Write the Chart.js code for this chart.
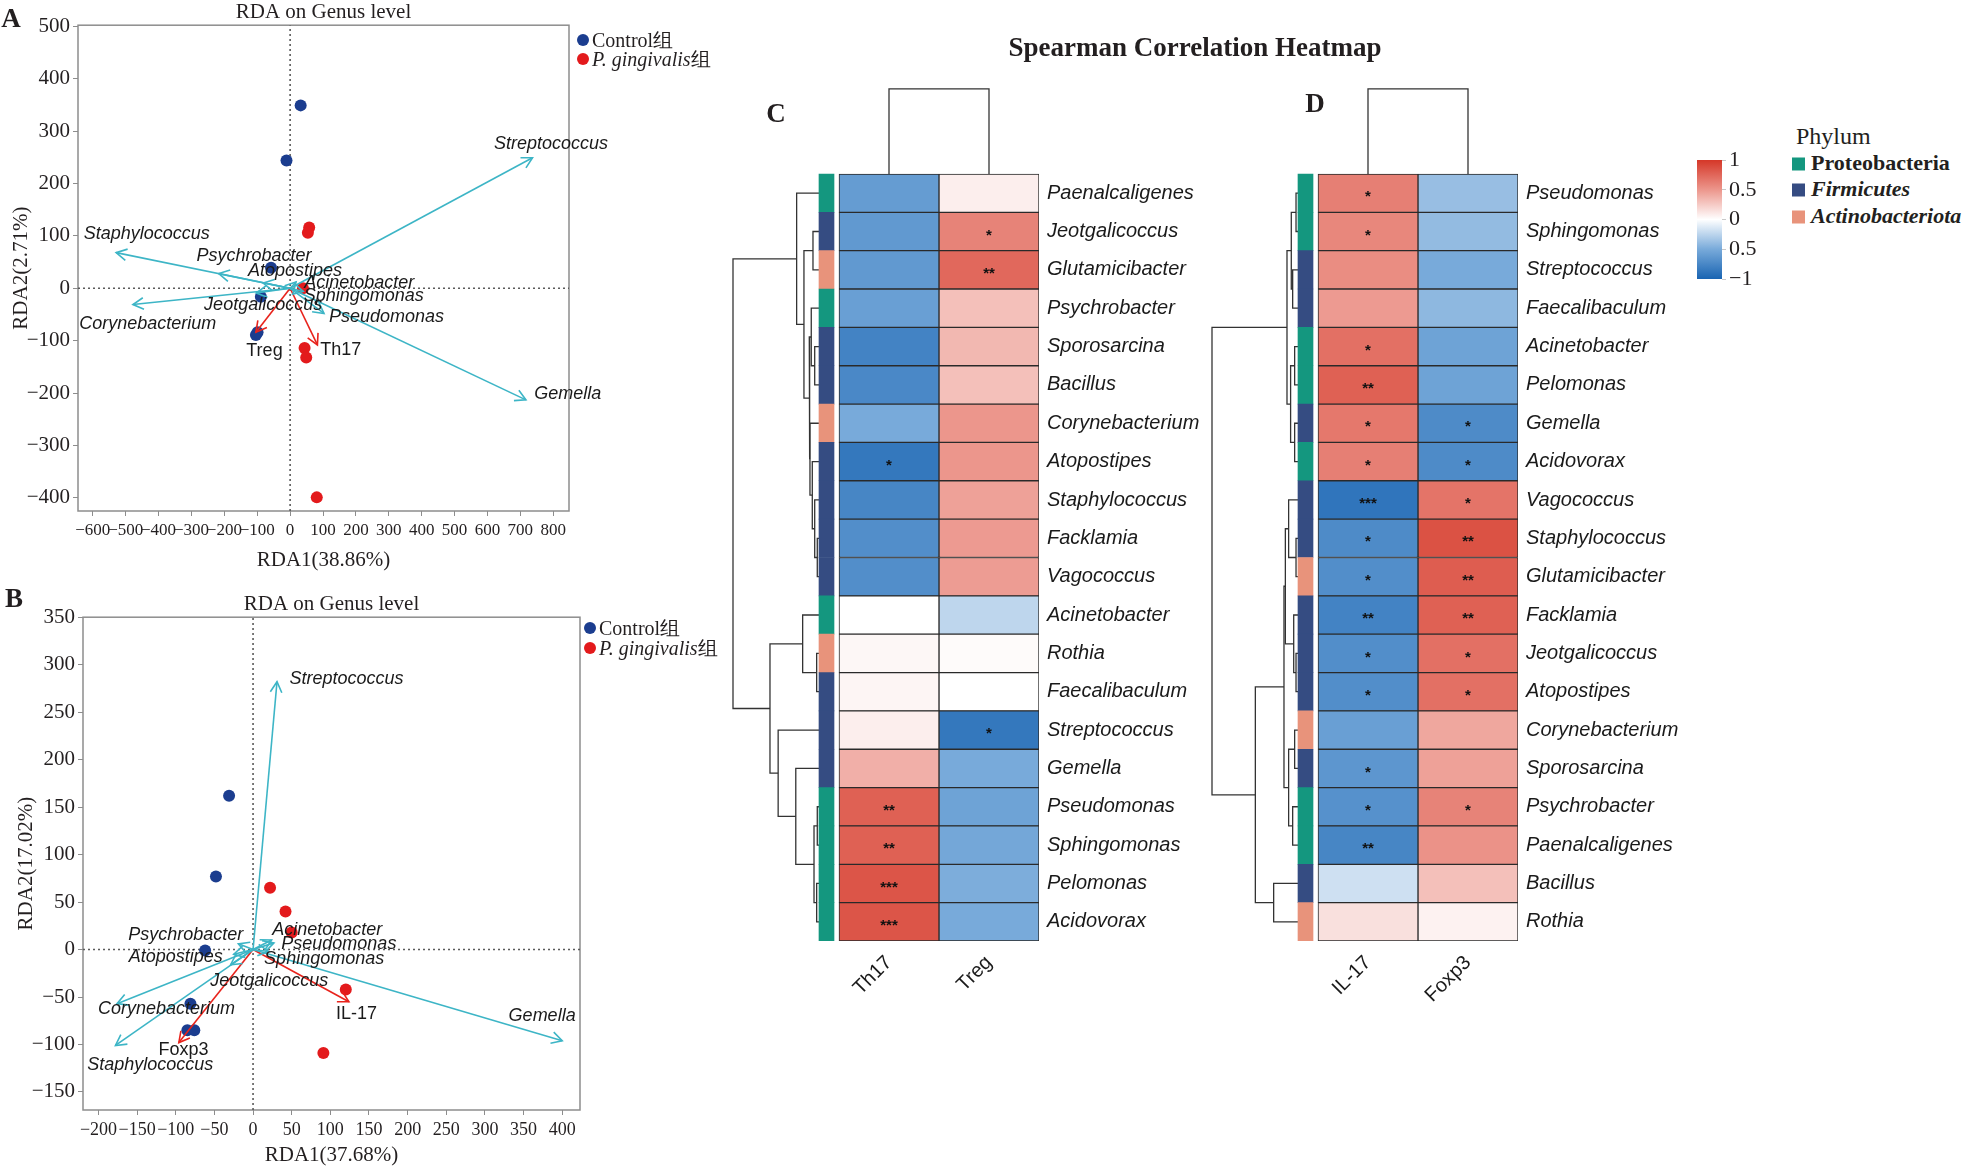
<!DOCTYPE html>
<html>
<head>
<meta charset="utf-8">
<script src="https://cdn.jsdelivr.net/npm/chart.js@4.4.1/dist/chart.umd.min.js"></script>
<style>
html, body { margin: 0; padding: 0; background: #fff; }
#fig { position: relative; width: 1977px; height: 1172px; overflow: hidden; background: #fff; color: #231f20; font-family: "Liberation Serif", serif; }
#fig canvas { position: absolute; }
.c { position: absolute; white-space: nowrap; transform: translate(-50%, -50%); }
.l { position: absolute; white-space: nowrap; transform: translateY(-50%); }
.dot { position: absolute; width: 12px; height: 12px; border-radius: 50%; transform: translate(-50%, -50%); }
.sq { position: absolute; width: 13px; height: 13px; transform: translateY(-50%); }
</style>
</head>
<body>
<div id="fig">
  <canvas id="rdaA" width="720" height="580" style="left:0;top:0"></canvas>
  <canvas id="rdaB" width="720" height="592" style="left:0;top:580px"></canvas>
  <canvas id="heatC" width="560" height="1172" style="left:700px;top:0"></canvas>
  <canvas id="heatD" width="540" height="1172" style="left:1180px;top:0"></canvas>
  <canvas id="cbar" width="100" height="153" style="left:1690px;top:143px"></canvas>

  <div class="c" style="left:11px;top:18px;font:bold 27px 'Liberation Serif'">A</div>
  <div class="c" style="left:14px;top:598px;font:bold 27px 'Liberation Serif'">B</div>
  <div class="c" style="left:776px;top:113px;font:bold 27px 'Liberation Serif'">C</div>
  <div class="c" style="left:1315px;top:103px;font:bold 27px 'Liberation Serif'">D</div>
  <div class="c" style="left:1195px;top:47px;font:bold 27px 'Liberation Serif'">Spearman Correlation Heatmap</div>

  <span class="dot" style="left:583px;top:40px;background:#1B3D8F"></span>
  <div class="l" style="left:592px;top:40px;font:20px 'Liberation Serif'">Control组</div>
  <span class="dot" style="left:583px;top:59px;background:#E31A1C"></span>
  <div class="l" style="left:592px;top:59px;font:20px 'Liberation Serif'"><i>P. gingivalis</i>组</div>

  <span class="dot" style="left:590px;top:628px;background:#1B3D8F"></span>
  <div class="l" style="left:599px;top:628px;font:20px 'Liberation Serif'">Control组</div>
  <span class="dot" style="left:590px;top:648px;background:#E31A1C"></span>
  <div class="l" style="left:599px;top:648px;font:20px 'Liberation Serif'"><i>P. gingivalis</i>组</div>

  <div class="l" style="left:1796px;top:136px;font:24px 'Liberation Serif'">Phylum</div>
  <span class="sq" style="left:1792px;top:164px;background:#14977F"></span>
  <div class="l" style="left:1811px;top:163px;font:bold 22px 'Liberation Serif'">Proteobacteria</div>
  <span class="sq" style="left:1792px;top:190px;background:#354C82"></span>
  <div class="l" style="left:1811px;top:189px;font:italic bold 22px 'Liberation Serif'">Firmicutes</div>
  <span class="sq" style="left:1792px;top:217px;background:#E8937B"></span>
  <div class="l" style="left:1811px;top:216px;font:italic bold 22px 'Liberation Serif'">Actinobacteriota</div>
</div>

<script>
// ---------- RDA panel A (Th17 / Treg) ----------
const groupNames = ['Control组', 'P. gingivalis组'];

const ctrlXA = [32, -11, -58, -89, -104, -99];
const ctrlYA = [349, 244, 39, -16, -89, -84];
const pgXA = [58, 54, 39, 44, 49, 81];
const pgYA = [116, 106, 0, -114, -132, -399];

const genusA = ['Streptococcus', 'Staphylococcus', 'Psychrobacter', 'Atopostipes', 'Acinetobacter',
  'Sphingomonas', 'Jeotgalicoccus', 'Corynebacterium', 'Pseudomonas', 'Gemella'];
const genusXA = [737, -529, -217, -82, 18, 40, -103, -478, 103, 717];
const genusYA = [249, 68, 28, 10, 12, -6, -9, -31, -48, -213];
const cellsA = ['Treg', 'Th17'];
const cellXA = [-104, 83];
const cellYA = [-84, -108];

// where the names sit (data coordinates)
const genusLabelXA = [793, -436, -110, 15, 210, 224, -82, -433, 293, 844];
const genusLabelYA = [275, 104, 61, 33, 10, -14, -32, -68, -54, -201];
const cellLabelXA = [-78, 154];
const cellLabelYA = [-120, -118];

const xTicksA = [-600, -500, -400, -300, -200, -100, 0, 100, 200, 300, 400, 500, 600, 700, 800];
const yTicksA = [-400, -300, -200, -100, 0, 100, 200, 300, 400, 500];

// ---------- RDA panel B (IL-17 / Foxp3) ----------
const ctrlXB = [-31, -48, -62, -81, -85, -76];
const ctrlYB = [162, 77, -1, -57, -85, -85];
const pgXB = [22, 42, 50, 120, 91];
const pgYB = [65, 40, 18, -42, -109];

const genusB = ['Streptococcus', 'Psychrobacter', 'Atopostipes', 'Acinetobacter', 'Pseudomonas',
  'Sphingomonas', 'Jeotgalicoccus', 'Corynebacterium', 'Staphylococcus', 'Gemella'];
const genusXB = [31, -19, -25, 24, 27, 20, -29, -176, -178, 400];
const genusYB = [282, 6, -5, 10, 7, -2, -16, -57, -101, -96];
const cellsB = ['IL-17', 'Foxp3'];
const cellXB = [124, -96];
const cellYB = [-55, -98];

const genusLabelXB = [121, -87, -100, 96, 111, 92, 21, -112, -133, 374];
const genusLabelYB = [285, 15, -8, 21, 6, -10, -33, -63, -122, -70];
const cellLabelXB = [134, -90];
const cellLabelYB = [-68, -106];

const xTicksB = [-200, -150, -100, -50, 0, 50, 100, 150, 200, 250, 300, 350, 400];
const yTicksB = [-150, -100, -50, 0, 50, 100, 150, 200, 250, 300, 350];

// ---------- Heatmap C ----------
const rowsC = ['Paenalcaligenes', 'Jeotgalicoccus', 'Glutamicibacter', 'Psychrobacter', 'Sporosarcina',
  'Bacillus', 'Corynebacterium', 'Atopostipes', 'Staphylococcus', 'Facklamia', 'Vagococcus',
  'Acinetobacter', 'Rothia', 'Faecalibaculum', 'Streptococcus', 'Gemella', 'Pseudomonas',
  'Sphingomonas', 'Pelomonas', 'Acidovorax'];
const colsC = ['Th17', 'Treg'];
const phylumC = ['P', 'F', 'A', 'P', 'F', 'F', 'A', 'F', 'F', 'F', 'F', 'P', 'A', 'F', 'F', 'F', 'P', 'P', 'P', 'P'];
const th17C = [-0.6, -0.62, -0.62, -0.58, -0.78, -0.74, -0.5, -0.86, -0.76, -0.7, -0.7,
  0, 0.04, 0.05, 0.08, 0.38, 0.78, 0.78, 0.84, 0.84];
const tregC = [0.08, 0.6, 0.74, 0.3, 0.34, 0.3, 0.5, 0.5, 0.45, 0.48, 0.47,
  -0.24, 0.02, 0, -0.86, -0.5, -0.55, -0.52, -0.48, -0.5];
const sigTh17C = ['', '', '', '', '', '', '', '*', '', '', '', '', '', '', '', '', '**', '**', '***', '***'];
const sigTregC = ['', '*', '**', '', '', '', '', '', '', '', '', '', '', '', '*', '', '', '', '', ''];
// row clustering, hclust style: negative = leaf row (-(i+1)), positive = earlier merge
const mergeLeftC = [-10, -9, -8, -7, -5, -4, 6, -2, 8, -1, -13, -12, -17, -19, 13, -16, -15, 12, 10];
const mergeRightC = [-11, 1, 2, 3, -6, 5, 4, -3, 7, 9, -14, 11, -18, -20, 14, 15, 16, 17, 18];
const mergeHeightC = [0.02, 0.05, 0.078, 0.105, 0.05, 0.09, 0.113, 0.07, 0.175, 0.26,
  0.027, 0.19, 0.02, 0.027, 0.058, 0.27, 0.475, 0.57, 1.0];

// ---------- Heatmap D ----------
const rowsD = ['Pseudomonas', 'Sphingomonas', 'Streptococcus', 'Faecalibaculum', 'Acinetobacter',
  'Pelomonas', 'Gemella', 'Acidovorax', 'Vagococcus', 'Staphylococcus', 'Glutamicibacter',
  'Facklamia', 'Jeotgalicoccus', 'Atopostipes', 'Corynebacterium', 'Sporosarcina',
  'Psychrobacter', 'Paenalcaligenes', 'Bacillus', 'Rothia'];
const colsD = ['IL-17', 'Foxp3'];
const phylumD = ['P', 'P', 'F', 'F', 'P', 'P', 'F', 'P', 'F', 'F', 'A', 'F', 'F', 'F', 'A', 'F', 'P', 'P', 'F', 'A'];
const il17D = [0.62, 0.58, 0.55, 0.48, 0.7, 0.78, 0.66, 0.62, -0.88, -0.72, -0.7, -0.78,
  -0.7, -0.7, -0.58, -0.64, -0.68, -0.76, -0.18, 0.15];
const foxp3D = [-0.38, -0.4, -0.5, -0.42, -0.55, -0.55, -0.72, -0.72, 0.68, 0.86, 0.8, 0.78,
  0.7, 0.7, 0.42, 0.45, 0.6, 0.52, 0.3, 0.06];
const sigIl17D = ['*', '*', '', '', '*', '**', '*', '*', '***', '*', '*', '**', '*', '*', '', '*', '*', '**', '', ''];
const sigFoxp3D = ['', '', '', '', '', '', '*', '*', '*', '**', '**', '**', '*', '*', '', '', '*', '', '', ''];
const mergeLeftD = [-1, -3, 1, -5, -7, 4, 3, -10, -9, -13, -12, 9, -15, -17, 13, 12, -19, 16, 7];
const mergeRightD = [-2, -4, 2, -6, -8, 5, 6, -11, 8, -14, 10, 11, -16, -18, 14, 15, -20, 17, 18];
const mergeHeightD = [0.023, 0.062, 0.078, 0.039, 0.039, 0.086, 0.128, 0.023, 0.109, 0.023,
  0.05, 0.147, 0.039, 0.062, 0.109, 0.163, 0.283, 0.496, 1.0];

// colour key
const keyTicks = [1, 0.5, 0, -0.5, -1];
const keyLabels = ['1', '0.5', '0', '0.5', '−1'];

// ---------- styling ----------
const SERIF = '"Liberation Serif", "DejaVu Serif", serif';
const SANS = '"Liberation Sans", Arial, sans-serif';
const INK = '#231f20';
const CTRL_BLUE = '#1B3D8F';
const PG_RED = '#E31A1C';
const ARROW_CYAN = '#3DB5C6';
const ARROW_RED = '#E8231C';
const PHYLUM_COL = { P: '#14977F', F: '#354C82', A: '#E8937B' };
const CORR_STOPS = [
  [-1, [25, 100, 178]], [-0.5, [120, 170, 218]], [0, [255, 255, 255]],
  [0.5, [236, 150, 140]], [1, [213, 55, 40]]
];

Chart.defaults.font.family = SANS;
Chart.defaults.color = INK;

function corrColor(v) {
  for (let k = 1; k < CORR_STOPS.length; k++) {
    const [v0, c0] = CORR_STOPS[k - 1];
    const [v1, c1] = CORR_STOPS[k];
    if (v <= v1 || k === CORR_STOPS.length - 1) {
      const t = Math.max(0, Math.min(1, (v - v0) / (v1 - v0)));
      const c = c0.map((x, i) => Math.round(x + (c1[i] - x) * t));
      return `rgb(${c[0]},${c[1]},${c[2]})`;
    }
  }
}

const minus = v => (v < 0 ? '−' + Math.abs(v) : String(v));

// frame, arrow heads and names for the RDA panels
const rdaPlugin = {
  id: 'rdaText',
  beforeDatasetsDraw(chart) {
    const { ctx, chartArea: a } = chart;
    ctx.save();
    ctx.strokeStyle = '#8d8d8d';
    ctx.lineWidth = 1.5;
    ctx.strokeRect(a.left, a.top, a.right - a.left, a.bottom - a.top);
    ctx.restore();
  },
  afterDatasetsDraw(chart, args, opts) {
    const ctx = chart.ctx;
    ctx.save();
    chart.data.datasets.forEach((ds, di) => {
      if (!ds.arrowHead) return;
      const [p0, p1] = chart.getDatasetMeta(di).data;
      const ang = Math.atan2(p1.y - p0.y, p1.x - p0.x);
      const len = 12, spread = 0.5;
      ctx.strokeStyle = ds.borderColor;
      ctx.lineWidth = ds.borderWidth;
      ctx.beginPath();
      ctx.moveTo(p1.x - len * Math.cos(ang - spread), p1.y - len * Math.sin(ang - spread));
      ctx.lineTo(p1.x, p1.y);
      ctx.lineTo(p1.x - len * Math.cos(ang + spread), p1.y - len * Math.sin(ang + spread));
      ctx.stroke();
    });
    const xs = chart.scales.x, ys = chart.scales.y;
    ctx.fillStyle = '#1a1a1a';
    ctx.textAlign = 'center';
    ctx.textBaseline = 'middle';
    opts.items.forEach(it => {
      ctx.font = (it.italic ? 'italic ' : '') + '18px ' + SANS;
      ctx.fillText(it.text, xs.getPixelForValue(it.x), ys.getPixelForValue(it.y));
    });
    ctx.restore();
  }
};

function arrowSet(x, y, color) {
  return { data: [{ x: 0, y: 0 }, { x, y }], showLine: true, pointRadius: 0,
    borderColor: color, borderWidth: 1.6, arrowHead: true };
}

function pointSet(label, xs, ys, color) {
  return { label, data: xs.map((x, i) => ({ x, y: ys[i] })), pointRadius: 6,
    backgroundColor: color, borderWidth: 0 };
}

function zeroLine(data) {
  return { data, showLine: true, pointRadius: 0, borderColor: '#5a5a5a',
    borderWidth: 1.6, borderDash: [2, 3] };
}

function rdaChart(id, p) {
  const ds = [];
  p.genus.forEach((g, i) => ds.push(arrowSet(p.genusX[i], p.genusY[i], ARROW_CYAN)));
  p.cells.forEach((c, i) => ds.push(arrowSet(p.cellX[i], p.cellY[i], ARROW_RED)));
  ds.push(pointSet(groupNames[0], p.ctrlX, p.ctrlY, CTRL_BLUE));
  ds.push(pointSet(groupNames[1], p.pgX, p.pgY, PG_RED));
  ds.push(zeroLine([{ x: p.xMin, y: 0 }, { x: p.xMax, y: 0 }]));
  ds.push(zeroLine([{ x: 0, y: p.yMin }, { x: 0, y: p.yMax }]));

  const items = p.genus.map((g, i) => ({ text: g, x: p.genusLX[i], y: p.genusLY[i], italic: true }))
    .concat(p.cells.map((c, i) => ({ text: c, x: p.cellLX[i], y: p.cellLY[i], italic: false })));

  return new Chart(document.getElementById(id), {
    type: 'scatter',
    data: { datasets: ds },
    plugins: [rdaPlugin],
    options: {
      responsive: false, animation: false, events: [],
      layout: { padding: p.padding },
      plugins: {
        legend: { display: false }, tooltip: { enabled: false },
        title: { display: true, text: 'RDA on Genus level', fullSize: false, color: INK,
          font: { family: SERIF, size: 21, weight: 'normal' }, padding: { top: 0, bottom: 0 } },
        rdaText: { items }
      },
      scales: {
        x: {
          type: 'linear', min: p.xMin, max: p.xMax,
          afterBuildTicks: s => { s.ticks = p.xTicks.map(v => ({ value: v })); },
          ticks: { autoSkip: false, minRotation: 0, maxRotation: 0, padding: 4, color: INK,
            font: { family: SERIF, size: p.xTickSize }, callback: minus },
          grid: { drawOnChartArea: false, drawTicks: true, tickLength: 5, color: '#8d8d8d' },
          border: { display: false },
          title: { display: true, text: p.xTitle, color: INK, font: { family: SERIF, size: 21 },
            padding: { top: 0, bottom: 4 } },
          afterFit: s => { s.height = p.xAxisH; }
        },
        y: {
          type: 'linear', min: p.yMin, max: p.yMax,
          afterBuildTicks: s => { s.ticks = p.yTicks.map(v => ({ value: v })); },
          ticks: { autoSkip: false, padding: 3, color: INK, font: { family: SERIF, size: 21 }, callback: minus },
          grid: { drawOnChartArea: false, drawTicks: true, tickLength: 5, color: '#8d8d8d' },
          border: { display: false },
          title: { display: true, text: p.yTitle, color: INK, font: { family: SERIF, size: 21 },
            padding: { top: 0, bottom: 0 } },
          afterFit: s => { s.width = 69; }
        }
      }
    }
  });
}

rdaChart('rdaA', {
  genus: genusA, genusX: genusXA, genusY: genusYA, genusLX: genusLabelXA, genusLY: genusLabelYA,
  cells: cellsA, cellX: cellXA, cellY: cellYA, cellLX: cellLabelXA, cellLY: cellLabelYA,
  ctrlX: ctrlXA, ctrlY: ctrlYA, pgX: pgXA, pgY: pgYA,
  xMin: -645, xMax: 848, yMin: -425, yMax: 502, xTicks: xTicksA, yTicks: yTicksA, xTickSize: 17,
  xTitle: 'RDA1(38.86%)', yTitle: 'RDA2(2.71%)', xAxisH: 66,
  padding: { left: 9, top: 0, right: 151, bottom: 3 }
});

rdaChart('rdaB', {
  genus: genusB, genusX: genusXB, genusY: genusYB, genusLX: genusLabelXB, genusLY: genusLabelYB,
  cells: cellsB, cellX: cellXB, cellY: cellYB, cellLX: cellLabelXB, cellLY: cellLabelYB,
  ctrlX: ctrlXB, ctrlY: ctrlYB, pgX: pgXB, pgY: pgYB,
  xMin: -220, xMax: 423, yMin: -169, yMax: 350, xTicks: xTicksB, yTicks: yTicksB, xTickSize: 18,
  xTitle: 'RDA1(37.68%)', yTitle: 'RDA2(17.02%)', xAxisH: 62,
  padding: { left: 14, top: 12, right: 140, bottom: 0 }
});

// ---------- heatmaps ----------
const BAR_L = -0.2, BAR_R = -0.05;  // phylum strip, in cell widths
const DEND_W = 0.86;                // row dendrogram depth, in cell widths
const COL_DEND_H = 2.22;            // column dendrogram height, in rows

function dendroSegments(left, right, height) {
  const nodes = [];
  const node = c => (c < 0 ? { y: -c - 1, h: 0 } : nodes[c - 1]);
  const segs = [];
  left.forEach((l, i) => {
    const a = node(l), b = node(right[i]), h = height[i];
    segs.push([{ h: a.h, y: a.y }, { h, y: a.y }, { h, y: b.y }, { h: b.h, y: b.y }]);
    nodes.push({ y: (a.y + b.y) / 2, h });
  });
  return segs;
}

function lineSet(data) {
  return { type: 'scatter', data, showLine: true, pointRadius: 0, borderColor: '#333',
    borderWidth: 1.3 };
}

const starPlugin = {
  id: 'stars',
  afterDatasetsDraw(chart) {
    const ctx = chart.ctx;
    ctx.save();
    ctx.fillStyle = '#111';
    ctx.font = 'bold 15px ' + SANS;
    ctx.textAlign = 'center';
    ctx.textBaseline = 'middle';
    chart.data.datasets.forEach((ds, di) => {
      if (!ds.stars) return;
      chart.getDatasetMeta(di).data.forEach((bar, i) => {
        const s = ds.stars[i];
        if (!s) return;
        ctx.fillText(s, (bar.x + bar.base) / 2, bar.y + 4);
      });
    });
    ctx.restore();
  }
};

function heatmap(id, rows, cols, vals, sigs, phyla, mLeft, mRight, mHeight, padLeft, yAxisW) {
  const ds = [];
  cols.forEach((c, j) => ds.push({
    type: 'bar', indexAxis: 'y', grouped: false,
    data: rows.map((r, i) => ({ x: [j, j + 1], y: i })),
    backgroundColor: vals[j].map(corrColor),
    borderColor: '#2a2a2a', borderWidth: 1, borderSkipped: false,
    barPercentage: 1, categoryPercentage: 1, stars: sigs[j]
  }));
  ds.push({
    type: 'bar', indexAxis: 'y', grouped: false,
    data: rows.map((r, i) => ({ x: [BAR_L, BAR_R], y: i })),
    backgroundColor: phyla.map(p => PHYLUM_COL[p]), borderWidth: 0,
    barPercentage: 1, categoryPercentage: 1
  });
  dendroSegments(mLeft, mRight, mHeight).forEach(seg =>
    ds.push(lineSet(seg.map(p => ({ x: BAR_L - p.h * DEND_W, y: p.y })))));
  const top = -0.5 - COL_DEND_H;
  ds.push(lineSet([{ x: 0.5, y: -0.5 }, { x: 0.5, y: top }, { x: 1.5, y: top }, { x: 1.5, y: -0.5 }]));

  return new Chart(document.getElementById(id), {
    type: 'scatter',
    data: { datasets: ds },
    plugins: [starPlugin],
    options: {
      responsive: false, animation: false, events: [],
      layout: { padding: { left: padLeft, top: 87.7, right: 0, bottom: 0 } },
      plugins: { legend: { display: false }, tooltip: { enabled: false } },
      scales: {
        x: {
          type: 'linear', min: -1.1, max: 2, offset: false,
          afterBuildTicks: s => { s.ticks = cols.map((c, j) => ({ value: j + 0.5 })); },
          ticks: { autoSkip: false, minRotation: 45, maxRotation: 45, padding: 10, color: '#1a1a1a',
            font: { family: SANS, size: 20 }, callback: (v, i) => cols[i] },
          grid: { display: false, drawTicks: false, offset: false }, border: { display: false },
          afterFit: s => { s.height = 231; }
        },
        y: {
          type: 'linear', position: 'right', reverse: true, min: -2.75, max: 19.5, offset: false,
          afterBuildTicks: s => { s.ticks = rows.map((r, i) => ({ value: i })); },
          ticks: { autoSkip: false, padding: 8, color: '#1a1a1a',
            font: { family: SANS, size: 20, style: 'italic' }, callback: (v, i) => rows[i] },
          grid: { display: false, drawTicks: false, offset: false }, border: { display: false },
          afterFit: s => { s.width = yAxisW; }
        }
      }
    }
  });
}

heatmap('heatC', rowsC, colsC, [th17C, tregC], [sigTh17C, sigTregC], phylumC,
  mergeLeftC, mergeRightC, mergeHeightC, 29, 221);
heatmap('heatD', rowsD, colsD, [il17D, foxp3D], [sigIl17D, sigFoxp3D], phylumD,
  mergeLeftD, mergeRightD, mergeHeightD, 28, 202);

// ---------- colour key ----------
new Chart(document.getElementById('cbar'), {
  type: 'bar',
  data: {
    labels: ['r'],
    datasets: [{
      data: [[-1, 1]], borderWidth: 0, barPercentage: 1, categoryPercentage: 1,
      backgroundColor: c => {
        const a = c.chart.chartArea;
        if (!a) return '#ffffff';
        const g = c.chart.ctx.createLinearGradient(0, a.bottom, 0, a.top);
        CORR_STOPS.forEach(([v]) => g.addColorStop((v + 1) / 2, corrColor(v)));
        return g;
      }
    }]
  },
  options: {
    responsive: false, animation: false, events: [],
    layout: { padding: { left: 7, top: 17, right: 0, bottom: 17 } },
    plugins: { legend: { display: false }, tooltip: { enabled: false } },
    scales: {
      x: { display: false },
      y: {
        position: 'right', min: -1, max: 1,
        afterBuildTicks: s => { s.ticks = keyTicks.map(v => ({ value: v })); },
        ticks: { autoSkip: false, padding: 3, color: INK, font: { family: SERIF, size: 22 },
          callback: (v, i) => keyLabels[i] },
        grid: { drawOnChartArea: false, drawTicks: true, tickLength: 4, color: '#c8c8c8' },
        border: { display: false },
        afterFit: s => { s.width = 68; }
      }
    }
  }
});
</script>
</body>
</html>
